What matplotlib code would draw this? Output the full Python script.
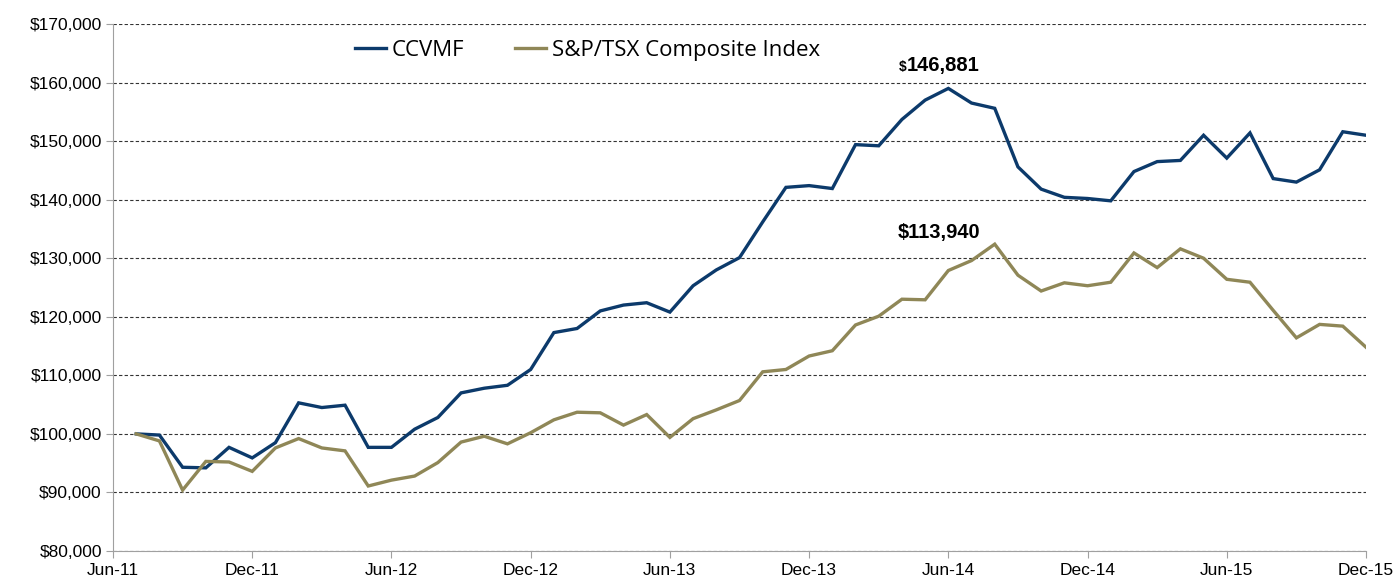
import numpy as np
import matplotlib
matplotlib.use("Agg")
import matplotlib.pyplot as plt
from matplotlib.ticker import FuncFormatter

# monthly values, Jul-11 .. Dec-15
ccvmf = [100000, 99800, 94300, 94200, 97700, 95900, 98500, 105300, 104500, 104900,
         97700, 97700, 100800, 102800, 107000, 107800, 108300, 111000, 117300, 118000,
         121000, 122000, 122400, 120800, 125300, 128000, 130100, 136200, 142100, 142400,
         141900, 149400, 149200, 153700, 157000, 159000, 156500, 155600, 145600, 141800,
         140400, 140200, 139800, 144800, 146500, 146700, 151000, 147100, 151400, 143600,
         143000, 145100, 151600, 151000]
tsx = [100000, 98800, 90400, 95300, 95200, 93600, 97600, 99200, 97600, 97100,
       91100, 92100, 92800, 95100, 98600, 99600, 98300, 100200, 102400, 103700,
       103600, 101500, 103300, 99400, 102600, 104100, 105700, 110600, 111000, 113300,
       114200, 118600, 120100, 123000, 122900, 127900, 129600, 132400, 127100, 124400,
       125800, 125300, 125900, 130900, 128400, 131600, 130000, 126400, 125900, 121100,
       116400, 118700, 118400, 114800]
tick_labels = ["Jun-11", "Dec-11", "Jun-12", "Dec-12", "Jun-13", "Dec-13",
               "Jun-14", "Dec-14", "Jun-15", "Dec-15"]

NAVY = "#0c3a6b"
OLIVE = "#8f8757"

months = np.arange(len(ccvmf))

fig = plt.figure(figsize=(13.95, 5.77), dpi=100)
ax = fig.add_axes([113 / 1395, 26 / 577, (1366 - 113) / 1395, (551 - 24) / 577])

ax.plot(months, ccvmf, color=NAVY, lw=2.4, label="CCVMF", solid_joinstyle="miter")
ax.plot(months, tsx, color=OLIVE, lw=2.4, label="S&P/TSX Composite Index", solid_joinstyle="miter")

ax.set_xlim(-1, 53)
ax.set_ylim(80000, 170000)
ax.set_xticks(np.arange(-1, 54, 6))
ax.set_xticklabels(tick_labels)
ax.set_yticks(np.arange(80000, 170001, 10000))
ax.yaxis.set_major_formatter(FuncFormatter(lambda v, p: f"${v:,.0f}"))

ax.grid(axis="y", color="#333333", linestyle=(0, (3, 2)), linewidth=0.8)
ax.set_axisbelow(True)
for s in ["top", "right"]:
    ax.spines[s].set_visible(False)
ax.spines["left"].set_color("#a0a0a0")
ax.spines["bottom"].set_color("#a0a0a0")
ax.tick_params(axis="both", colors="#a0a0a0", labelcolor="#000000", length=5,
               labelsize=12.5)
ax.tick_params(axis="y", pad=3)
for lbl in ax.get_xticklabels() + ax.get_yticklabels():
    lbl.set_family("Liberation Sans")

leg = ax.legend(loc="upper left", bbox_to_anchor=(0.177, 1.008), ncol=2, frameon=False,
                prop={"family": "Open Sans", "size": 16}, handlelength=1.4,
                columnspacing=2.3, handletextpad=0.25)

ax.text(33.19, 161900, "$", fontsize=10, fontweight="bold", family="Liberation Sans",
        ha="right", va="baseline")
ax.text(33.19, 161900, "146,881", fontsize=14.5, fontweight="bold", family="Liberation Sans",
        ha="left", va="baseline")
ax.text(34.6, 134400, "$113,940", fontsize=14.5, fontweight="bold", family="Liberation Sans",
        ha="center", va="center")

fig.savefig("out.png", dpi=100, facecolor="white")
